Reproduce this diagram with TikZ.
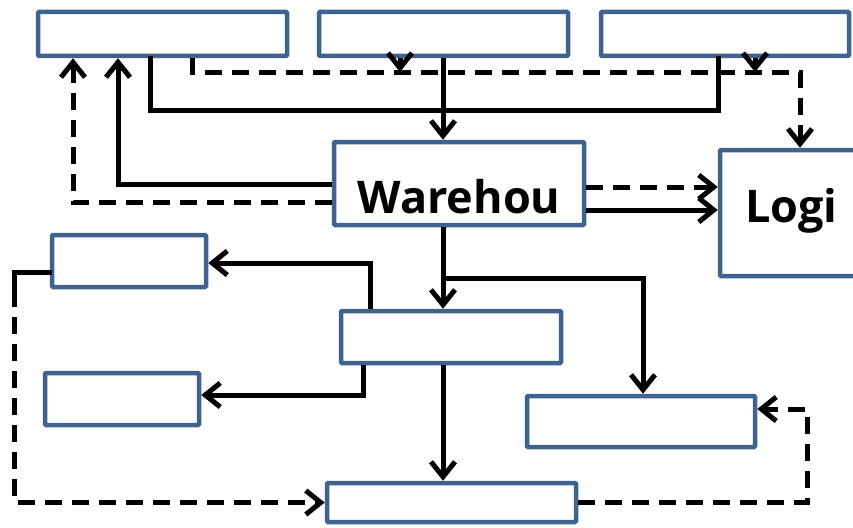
\documentclass[tikz,border=0pt]{standalone}
\usepackage{fontspec}
\setmainfont{Open Sans}
\usepackage{tikz}
\usetikzlibrary{arrows.meta,positioning,calc}
\definecolor{boxblue}{HTML}{3F628F}

\begin{document}
\begin{tikzpicture}[
      x=1pt, y=-1pt,
      >={Straight Barb[length=15pt,width=24pt]},
      box/.style={draw=boxblue, fill=white, line width=4.5pt, rounded corners=1pt,
                  inner sep=0pt},
      wide/.style={box, minimum width=249pt, minimum height=44pt},
      small/.style={box, minimum width=154pt, minimum height=52pt},
      boxtext/.style={font=\fontsize{45}{48}\selectfont\bfseries, inner sep=0pt},
      line/.style={line width=5pt, line cap=rect},
      flow/.style={->, line width=5pt},
      dflow/.style={flow, dash pattern=on 17pt off 10pt},
    ]
    \useasboundingbox (0,0) rectangle (853,527);
    % --- top row ------------------------------------------------------------------
    \node[wide] (src1) at (162.5,34) {};
    \node[wide] (src2) at (443.5,34) {};
    \node[wide, minimum width=248pt] (src3) at (725,34) {};

    % --- warehouse and logistics ----------------------------------------------------
    \node[box, minimum width=250pt, minimum height=83pt] (wh) at (459,183.5) {};
    \node[boxtext, anchor=base] (whtext) at (459,213) {Warehou};
    \node[box, minimum width=160pt, minimum height=126pt] (lg) at (800,213) {};
    \node[boxtext, anchor=base west] (lgtext) at (745,222) {Logi};

    % --- lower boxes ----------------------------------------------------------------
    \node[small] (cust) at (129,261) {};
    \node[box, minimum width=220pt, minimum height=52pt] (deli) at (451,337) {};
    \node[small] (deliv) at (122,399) {};
    \node[box, minimum width=228pt, minimum height=51pt] (serv) at (641,421.5) {};
    \node[wide, minimum height=39pt] (sink) at (451.5,502.5) {};

    % --- top row into warehouse (solid) and logistics (dashed) ----------------------
    \draw[line] (150,0 |- src1.south) |- (718,110) -- (718,0 |- src3.south);
    \draw[flow] (443,0 |- src2.south) -- (443,0 |- wh.north);
    \draw[dflow] (192,0 |- src1.south) |- (800,72) -- (800,0 |- lg.north);
    \draw[flow] (400,0 |- src2.south) -- (400,72);
    \draw[flow] (755,0 |- src3.south) -- (755,72);

    % --- warehouse back to first source and on to logistics -------------------------
    \draw[flow] (wh.west |- 0,184) -| (118,0 |- src1.south);
    \draw[dflow] (wh.west |- 0,202) -| (73,0 |- src1.south);
    \draw[dflow] (wh.east |- 0,187) -- (lg.west |- 0,187);
    \draw[flow] (wh.east |- 0,210) -- (lg.west |- 0,210);

    % --- warehouse down -------------------------------------------------------------
    \draw[flow] (443,0 |- wh.south) -- (443,0 |- deli.north);
    \draw[flow] (443,278) -| (643,0 |- serv.north);
    \draw[flow] (370,0 |- deli.north) |- (cust.east |- 0,263);
    \draw[flow] (363,0 |- deli.south) |- (deliv.east |- 0,395);
    \draw[flow] (443,0 |- deli.south) -- (443,0 |- sink.north);

    % --- dashed returns -------------------------------------------------------------
    \coordinate (cbend) at (14,290);
    \draw[line] (cust.west |- 0,272) -| (cbend);
    \draw[dflow] (cbend) |- (sink.west);
    \coordinate (sbend) at (807,409);
    \draw[dflow] (sink.east) -| (sbend) -- (serv.east |- sbend);
  \end{tikzpicture}
\end{document}
